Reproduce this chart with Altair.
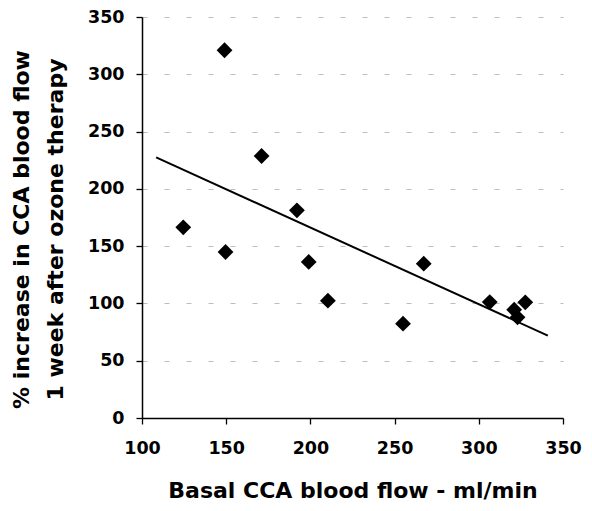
import altair as alt
import pandas as pd

# Scatter data
basal_flow = [124.5, 149.0, 149.6, 171.0, 192.0, 199.0, 210.4, 255.0, 267.3, 306.5, 321.0, 323.0, 327.6]
pct_increase = [166.4, 321.0, 144.9, 228.7, 181.3, 136.2, 102.4, 82.3, 134.7, 101.2, 94.5, 87.9, 101.0]

# Trend line end points
trend_x = [108.4, 341.0]
trend_y = [227.5, 71.9]

x_ticks = [100, 150, 200, 250, 300, 350]
y_ticks = [0, 50, 100, 150, 200, 250, 300, 350]

pts = pd.DataFrame({"x": basal_flow, "y": pct_increase})
trend = pd.DataFrame({"x": trend_x, "y": trend_y})

FONT = "DejaVu Sans"

xscale = alt.Scale(domain=[100, 350], nice=False, zero=False)
yscale = alt.Scale(domain=[0, 350], nice=False)

xaxis = alt.Axis(
    values=x_ticks, title="Basal CCA blood flow - ml/min", grid=False,
    labelFont=FONT, labelFontWeight="bold", labelFontSize=17.5, labelColor="black",
    labelPadding=15, tickSize=6, tickColor="black", tickWidth=1.3,
    labelFlush=False, labelOverlap=False,
    domainColor="black", domainWidth=1.5,
    titleFont=FONT, titleFontWeight="bold", titleFontSize=22, titleColor="black",
    titleBaseline="alphabetic", titleY=79,
)
yaxis = alt.Axis(
    values=y_ticks, title=["% increase in CCA blood flow", "1 week after ozone therapy"],
    grid=True, gridDash=[5, 17], gridColor="#bdbdbd", gridWidth=1,
    labelFont=FONT, labelFontWeight="bold", labelFontSize=17.5, labelColor="black",
    labelPadding=12, tickSize=6, tickColor="black", tickWidth=1.3,
    labelFlush=False, labelOverlap=False,
    domainColor="black", domainWidth=1.5,
    titleFont=FONT, titleFontWeight="bold", titleFontSize=22, titleColor="black",
    titleAngle=-90, titleAlign="center", titleBaseline="alphabetic",
    titleX=-114, titleY=212, titleLineHeight=34,
)

points = alt.Chart(pts).mark_point(shape="diamond", filled=True, size=250, color="black", opacity=1).encode(
    x=alt.X("x:Q", scale=xscale, axis=xaxis),
    y=alt.Y("y:Q", scale=yscale, axis=yaxis),
)

line = alt.Chart(trend).mark_line(color="black", strokeWidth=2).encode(
    x=alt.X("x:Q", scale=xscale),
    y=alt.Y("y:Q", scale=yscale),
)

chart = alt.layer(line, points).properties(
    width=421, height=401,
    autosize=alt.AutoSizeParams(type="none"),
    padding={"left": 134, "top": 9, "right": 21, "bottom": 85},
    background="white",
).configure_view(stroke=None)

chart.save("out.html", embed_options={"renderer": "svg", "actions": False})
